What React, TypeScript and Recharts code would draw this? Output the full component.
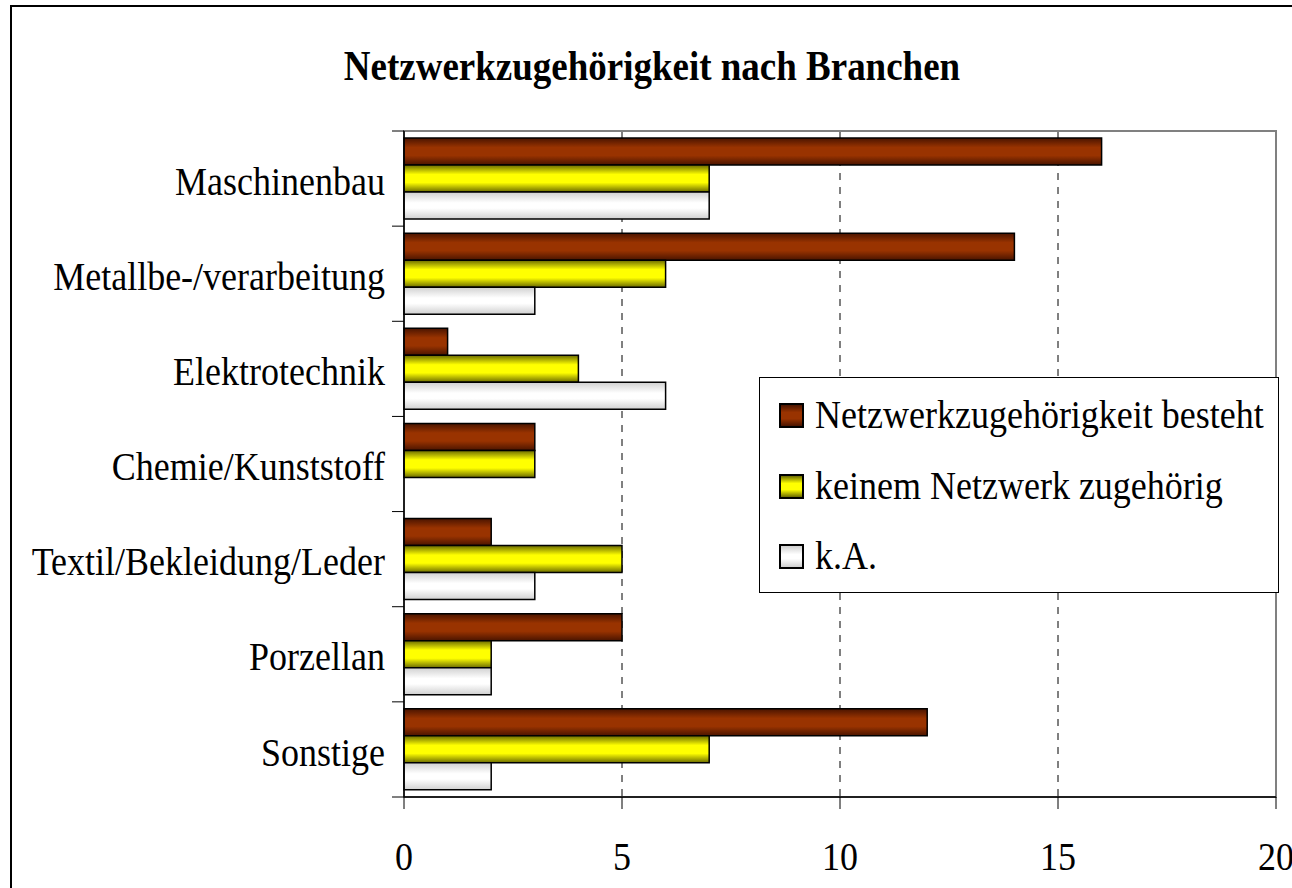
import React from 'react';
import { BarChart, Bar, XAxis, YAxis, CartesianGrid, Legend, ReferenceArea } from 'recharts';

const categories = [
  'Maschinenbau',
  'Metallbe-/verarbeitung',
  'Elektrotechnik',
  'Chemie/Kunststoff',
  'Textil/Bekleidung/Leder',
  'Porzellan',
  'Sonstige',
];
const netzwerkBesteht = [16, 14, 1, 3, 2, 5, 12];
const keinemNetzwerk = [7, 6, 4, 3, 5, 2, 7];
const keineAngabe: (number | null)[] = [7, 3, 6, null, 3, 2, 2];
const xTicks = [0, 5, 10, 15, 20];
const seriesNames = ['Netzwerkzugehörigkeit besteht', 'keinem Netzwerk zugehörig', 'k.A.'];
const title = 'Netzwerkzugehörigkeit nach Branchen';

const data = categories.map((name, i) => ({
  name,
  a: netzwerkBesteht[i],
  b: keinemNetzwerk[i],
  c: keineAngabe[i],
}));

const FONT = '"Liberation Serif", "Times New Roman", serif';
const TICK_SIZE = 12;
const TICK_MARGIN = 7;
const STRETCH = 1.12;

const legendSwatches = [
  'linear-gradient(to bottom, #4a1400 0%, #993300 35%, #993300 65%, #4a1400 100%)',
  'linear-gradient(to bottom, #6b6b00 0%, #ffff00 35%, #ffff00 65%, #6b6b00 100%)',
  'linear-gradient(to bottom, #d0d0d0 0%, #ffffff 40%, #ffffff 60%, #d0d0d0 100%)',
];
const legendRowCenters = [37, 108, 178];

const CategoryTick = (props: any) => {
  const { x, y, payload, index, visibleTicksCount } = props;
  const axisX = x + TICK_SIZE + TICK_MARGIN;
  const off = payload && payload.offset ? payload.offset : 0;
  const isLast = index === visibleTicksCount - 1;
  return (
    <g>
      <line x1={axisX - TICK_SIZE} x2={axisX} y1={y - off} y2={y - off} stroke="#000" strokeWidth={1} />
      {isLast && (
        <line x1={axisX - TICK_SIZE} x2={axisX} y1={y + off} y2={y + off} stroke="#000" strokeWidth={1} />
      )}
      <text
        transform={`translate(${x},${y + 2}) scale(1,${STRETCH})`}
        x={0}
        y={0}
        dy="0.35em"
        textAnchor="end"
        fill="#000"
        fontSize={36}
        fontFamily={FONT}
      >
        {payload.value}
      </text>
    </g>
  );
};

const XTick = (props: any) => {
  const { x, y, payload } = props;
  const baseline = y + 26;
  return (
    <text
      transform={`translate(${x},${baseline}) scale(1,${STRETCH})`}
      x={0}
      y={0}
      textAnchor="middle"
      fill="#000"
      fontSize={36}
      fontFamily={FONT}
    >
      {payload.value}
    </text>
  );
};

const renderLegend = () => (
  <div style={{ position: 'relative', width: '100%', height: '100%' }}>
    {seriesNames.map((n, i) => (
      <div
        key={n}
        style={{
          position: 'absolute',
          left: 19,
          top: legendRowCenters[i] - 20,
          height: 40,
          display: 'flex',
          alignItems: 'center',
          whiteSpace: 'nowrap',
        }}
      >
        <div
          style={{
            width: 25,
            height: 25,
            boxSizing: 'border-box',
            border: '2px solid #000',
            background: legendSwatches[i],
          }}
        />
        <span
          style={{
            marginLeft: 11,
            fontFamily: FONT,
            fontSize: 36,
            lineHeight: '40px',
            color: '#000',
            display: 'inline-block',
            transform: `scaleY(${STRETCH})`,
          }}
        >
          {n}
        </span>
      </div>
    ))}
  </div>
);

export default function App() {
  return (
    <div style={{ position: 'absolute', left: 0, top: 0, width: 1292, height: 888, overflow: 'hidden', background: '#fff' }}>
      <svg width={1292} height={888} style={{ position: 'absolute', left: 0, top: 0 }}>
        <rect x={11} y={6} width={1320} height={920} fill="none" stroke="#000" strokeWidth={2} />
        <text
          transform={`translate(652,80) scale(1,${STRETCH})`}
          x={0}
          y={0}
          textAnchor="middle"
          fontFamily={FONT}
          fontWeight="bold"
          fontSize={37}
          fill="#000"
        >
          {title}
        </text>
      </svg>
      <div style={{ position: 'absolute', left: 0, top: 0 }}>
        <BarChart
          width={1292}
          height={888}
          data={data}
          layout="vertical"
          margin={{ top: 131, right: 16, bottom: 11, left: 24 }}
          barCategoryGap={7}
          barGap={0}
        >
          <defs>
            <linearGradient id="gRed" x1="0" y1="0" x2="0" y2="1">
              <stop offset="0%" stopColor="#4a1400" />
              <stop offset="35%" stopColor="#993300" />
              <stop offset="65%" stopColor="#993300" />
              <stop offset="100%" stopColor="#4a1400" />
            </linearGradient>
            <linearGradient id="gYellow" x1="0" y1="0" x2="0" y2="1">
              <stop offset="0%" stopColor="#6b6b00" />
              <stop offset="35%" stopColor="#ffff00" />
              <stop offset="65%" stopColor="#ffff00" />
              <stop offset="100%" stopColor="#6b6b00" />
            </linearGradient>
            <linearGradient id="gWhite" x1="0" y1="0" x2="0" y2="1">
              <stop offset="0%" stopColor="#d0d0d0" />
              <stop offset="40%" stopColor="#ffffff" />
              <stop offset="60%" stopColor="#ffffff" />
              <stop offset="100%" stopColor="#d0d0d0" />
            </linearGradient>
          </defs>
          <CartesianGrid horizontal={false} stroke="#000" strokeDasharray="7 7" />
          <ReferenceArea x1={0} x2={20} fill="none" stroke="#808080" strokeWidth={2} />
          <XAxis
            type="number"
            domain={[0, 20]}
            ticks={xTicks}
            interval={0}
            height={80}
            tickSize={12}
            tickMargin={35}
            axisLine={{ stroke: '#000', strokeWidth: 1.5 }}
            tickLine={{ stroke: '#000' }}
            tick={<XTick />}
          />
          <YAxis
            type="category"
            dataKey="name"
            width={380}
            interval={0}
            tickSize={TICK_SIZE}
            tickMargin={TICK_MARGIN}
            tickLine={false}
            axisLine={{ stroke: '#000', strokeWidth: 1.5 }}
            tick={<CategoryTick />}
          />
          <Legend
            layout="horizontal"
            verticalAlign="middle"
            align="center"
            content={renderLegend}
            wrapperStyle={{
              position: 'absolute',
              left: 759,
              top: 377,
              bottom: 'auto',
              right: 'auto',
              width: 520,
              height: 216,
              border: '1px solid #000',
              background: '#fff',
              boxSizing: 'border-box',
            }}
          />
          <Bar dataKey="a" name={seriesNames[0]} fill="url(#gRed)" stroke="#000" strokeWidth={1.5} isAnimationActive={false} />
          <Bar dataKey="b" name={seriesNames[1]} fill="url(#gYellow)" stroke="#000" strokeWidth={1.5} isAnimationActive={false} />
          <Bar dataKey="c" name={seriesNames[2]} fill="url(#gWhite)" stroke="#000" strokeWidth={1.5} isAnimationActive={false} />
        </BarChart>
      </div>
    </div>
  );
}
